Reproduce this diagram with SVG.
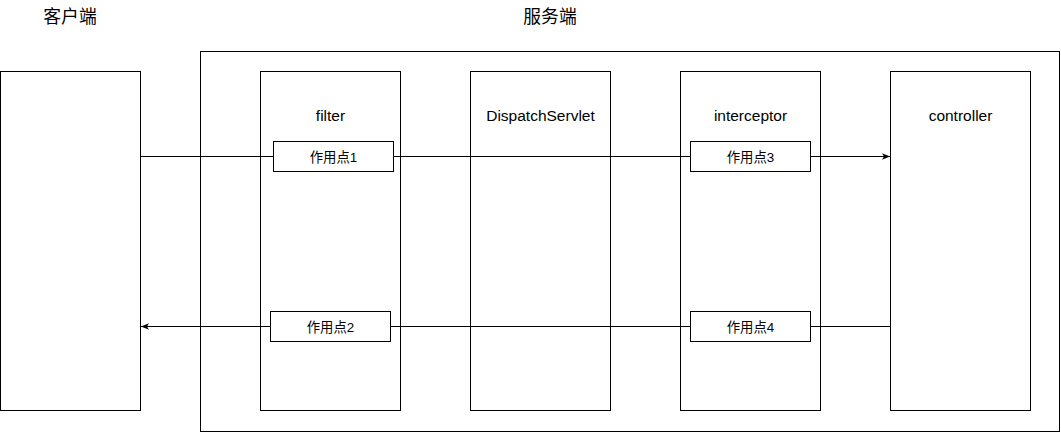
<svg xmlns="http://www.w3.org/2000/svg" width="1061" height="432" viewBox="0 0 1061 432">
<style>
.box{fill:#fff;stroke:#000;stroke-width:1}
.lbl{font-family:"Liberation Sans","Noto Sans CJK SC",sans-serif;font-size:15.5px;fill:#000;text-anchor:middle}
.pt{font-family:"Liberation Sans","Noto Sans CJK SC",sans-serif;font-size:13.4px;fill:#000;text-anchor:middle}
.ttl{font-family:"Liberation Sans","Noto Sans CJK SC",sans-serif;font-size:17.8px;fill:#000;text-anchor:middle}
.edge{fill:none;stroke:#000;stroke-width:1}
</style>
<defs>
<marker id="arr" viewBox="0 0 10 10" refX="10" refY="5" markerWidth="8" markerHeight="8" markerUnits="userSpaceOnUse" orient="auto">
<path d="M0,1 L10,5 L0,9 L2.5,5 Z" fill="#000"/>
</marker>
</defs>
<rect width="1061" height="432" fill="#fff"/>
<g id="title-client"><text class="ttl" x="70" y="23">客户端</text></g>
<g id="title-server"><text class="ttl" x="550" y="23">服务端</text></g>
<g id="server"><rect class="box" x="200.5" y="51.5" width="859" height="380"/></g>
<g id="client"><rect class="box" x="0.5" y="71.5" width="140" height="339"/></g>
<g id="filter"><rect class="box" x="260.5" y="71.5" width="140" height="339"/><text class="lbl" x="330.5" y="121">filter</text></g>
<g id="dispatch"><rect class="box" x="470.5" y="71.5" width="140" height="339"/><text class="lbl" x="540.5" y="121">DispatchServlet</text></g>
<g id="interceptor"><rect class="box" x="680.5" y="71.5" width="140" height="339"/><text class="lbl" x="750.5" y="121">interceptor</text></g>
<g id="controller"><rect class="box" x="890.5" y="71.5" width="140" height="339"/><text class="lbl" x="960.5" y="121">controller</text></g>
<g id="connectors">
<path class="edge" d="M140.5,156.5 H273.5"/>
<path class="edge" d="M393.5,156.5 H690.5"/>
<path class="edge" d="M810.5,156.5 H890" marker-end="url(#arr)"/>
<path class="edge" d="M890.5,326.5 H810.5"/>
<path class="edge" d="M690.5,326.5 H390.5"/>
<path class="edge" d="M270.5,326.5 H141" marker-end="url(#arr)"/>
</g>
<g id="p1"><rect class="box" x="273.5" y="141.5" width="120" height="30"/><text class="pt" x="333.5" y="161.5">作用点1</text></g>
<g id="p2"><rect class="box" x="270.5" y="311.5" width="120" height="30"/><text class="pt" x="330.5" y="331.5">作用点2</text></g>
<g id="p3"><rect class="box" x="690.5" y="141.5" width="120" height="30"/><text class="pt" x="750.5" y="161.5">作用点3</text></g>
<g id="p4"><rect class="box" x="690.5" y="311.5" width="120" height="30"/><text class="pt" x="750.5" y="331.5">作用点4</text></g>
</svg>
